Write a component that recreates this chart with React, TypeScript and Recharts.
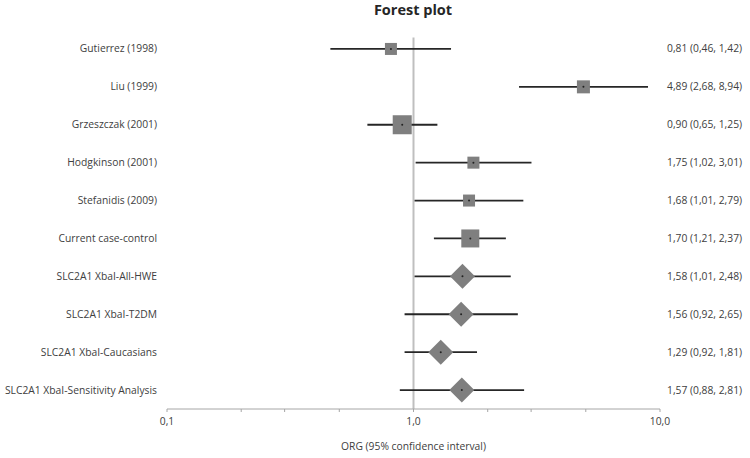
import React from "react";
import {
  ScatterChart,
  Scatter,
  XAxis,
  YAxis,
  ErrorBar,
  ReferenceLine,
} from "recharts";

const studies = [
  "Gutierrez (1998)",
  "Liu (1999)",
  "Grzeszczak (2001)",
  "Hodgkinson (2001)",
  "Stefanidis (2009)",
  "Current case-control",
  "SLC2A1 XbaI-All-HWE",
  "SLC2A1 XbaI-T2DM",
  "SLC2A1 XbaI-Caucasians",
  "SLC2A1 XbaI-Sensitivity Analysis",
];
const oddsRatios = [0.81, 4.89, 0.9, 1.75, 1.68, 1.7, 1.58, 1.56, 1.29, 1.57];
const ciLower = [0.46, 2.68, 0.65, 1.02, 1.01, 1.21, 1.01, 0.92, 0.92, 0.88];
const ciUpper = [1.42, 8.94, 1.25, 3.01, 2.79, 2.37, 2.48, 2.65, 1.81, 2.81];
const weights = [12, 13, 19, 12, 12, 18, 0, 0, 0, 0];
const pooled = [false, false, false, false, false, false, true, true, true, true];
const xTicks = [0.1, 0.2, 0.3, 0.5, 1, 2, 3, 5, 10];
const xTickLabels = [0.1, 1, 10];
const rows = [0, 1, 2, 3, 4, 5, 6, 7, 8, 9];

const fmt = (v: number) => v.toFixed(2).replace(".", ",");

const data = studies.map((name, i) => ({
  row: i,
  name,
  or: oddsRatios[i],
  err: [oddsRatios[i] - ciLower[i], ciUpper[i] - oddsRatios[i]],
  weight: weights[i],
  pooled: pooled[i],
  text: `${fmt(oddsRatios[i])} (${fmt(ciLower[i])}, ${fmt(ciUpper[i])})`,
}));

const FONT = "'Open Sans', 'DejaVu Sans', sans-serif";
const TXT = "#404040";
const FS = 10.3;

const Marker = (props: any) => {
  const { cx, cy, payload } = props;
  if (cx == null || cy == null) return null;
  if (payload.pooled) {
    const h = 12.5;
    return (
      <polygon
        points={`${cx - h},${cy} ${cx},${cy - h} ${cx + h},${cy} ${cx},${cy + h}`}
        fill="#7f7f7f"
      />
    );
  }
  const s = payload.weight;
  return <rect x={cx - s / 2} y={cy - s / 2} width={s} height={s} fill="#7f7f7f" />;
};

const Dot = (props: any) => {
  const { cx, cy } = props;
  if (cx == null || cy == null) return null;
  return <circle cx={cx} cy={cy} r={1} fill="#222" />;
};

const LeftTick = (props: any) => {
  const { x, y, payload } = props;
  return (
    <text x={x} y={y} dy={3.5} textAnchor="end" fontSize={FS} fill={TXT} fontFamily={FONT}>
      {studies[payload.value] ?? ""}
    </text>
  );
};

const RightTick = (props: any) => {
  const { x, y, payload } = props;
  const d = data[payload.value];
  return (
    <text x={x} y={y} dy={3.5} textAnchor="start" fontSize={FS} fill={TXT} fontFamily={FONT}>
      {d ? d.text : ""}
    </text>
  );
};

const BottomTick = (props: any) => {
  const { x, y, payload } = props;
  const v = payload.value;
  const show = xTickLabels.some((t) => Math.abs(t - v) < 1e-9);
  if (!show) return null;
  return (
    <text x={x} y={y} dy={9} textAnchor="middle" fontSize={FS} fill={TXT} fontFamily={FONT}>
      {v.toFixed(1).replace(".", ",")}
    </text>
  );
};

export default function App() {
  return (
    <div style={{ position: "absolute", left: 0, top: 0, width: 750, height: 458, background: "#fff" }}>
      <div
        style={{
          position: "absolute",
          left: 0,
          width: 826,
          top: 0,
          textAlign: "center",
          fontFamily: FONT,
          fontWeight: "bold",
          fontSize: 14.5,
          color: "#262626",
        }}
      >
        Forest plot
      </div>
      <ScatterChart
        width={750}
        height={458}
        margin={{ top: 30, right: 0, bottom: 0, left: 0 }}
      >
        <XAxis
          dataKey="or"
          type="number"
          scale="log"
          domain={[0.1, 10]}
          ticks={xTicks}
          allowDataOverflow
          height={49}
          interval={0}
          tickSize={3}
          stroke="#a6a6a6"
          tick={<BottomTick />}
          tickMargin={4}
          label={{
            value: "ORG (95% confidence interval)",
            position: "insideBottom",
            offset: 8,
            style: { fontSize: FS, fill: TXT, fontFamily: FONT },
          }}
        />
        <YAxis
          yAxisId="left"
          dataKey="row"
          type="number"
          domain={[-0.5, 9.5]}
          reversed
          width={167}
          ticks={rows}
          interval={0}
          axisLine={false}
          tickLine={false}
          tickSize={0}
          tickMargin={10}
          tick={<LeftTick />}
        />
        <YAxis
          yAxisId="right"
          orientation="right"
          dataKey="row"
          type="number"
          domain={[-0.5, 9.5]}
          reversed
          width={90}
          ticks={rows}
          interval={0}
          axisLine={false}
          tickLine={false}
          tickSize={0}
          tickMargin={7}
          tick={<RightTick />}
        />
        <ReferenceLine
          yAxisId="left"
          segment={[
            { x: 1, y: -0.3 },
            { x: 1, y: 9.5 },
          ]}
          stroke="#bfbfbf"
          strokeWidth={2}
        />
        <Scatter
          yAxisId="left"
          data={data}
          dataKey="or"
          shape={<Marker />}
          isAnimationActive={false}
        />
        <Scatter
          yAxisId="right"
          data={data}
          dataKey="or"
          shape={<Dot />}
          isAnimationActive={false}
        >
          <ErrorBar
            dataKey="err"
            direction="x"
            width={0}
            stroke="#262626"
            strokeWidth={1.8}
            isAnimationActive={false}
          />
        </Scatter>
      </ScatterChart>
    </div>
  );
}
